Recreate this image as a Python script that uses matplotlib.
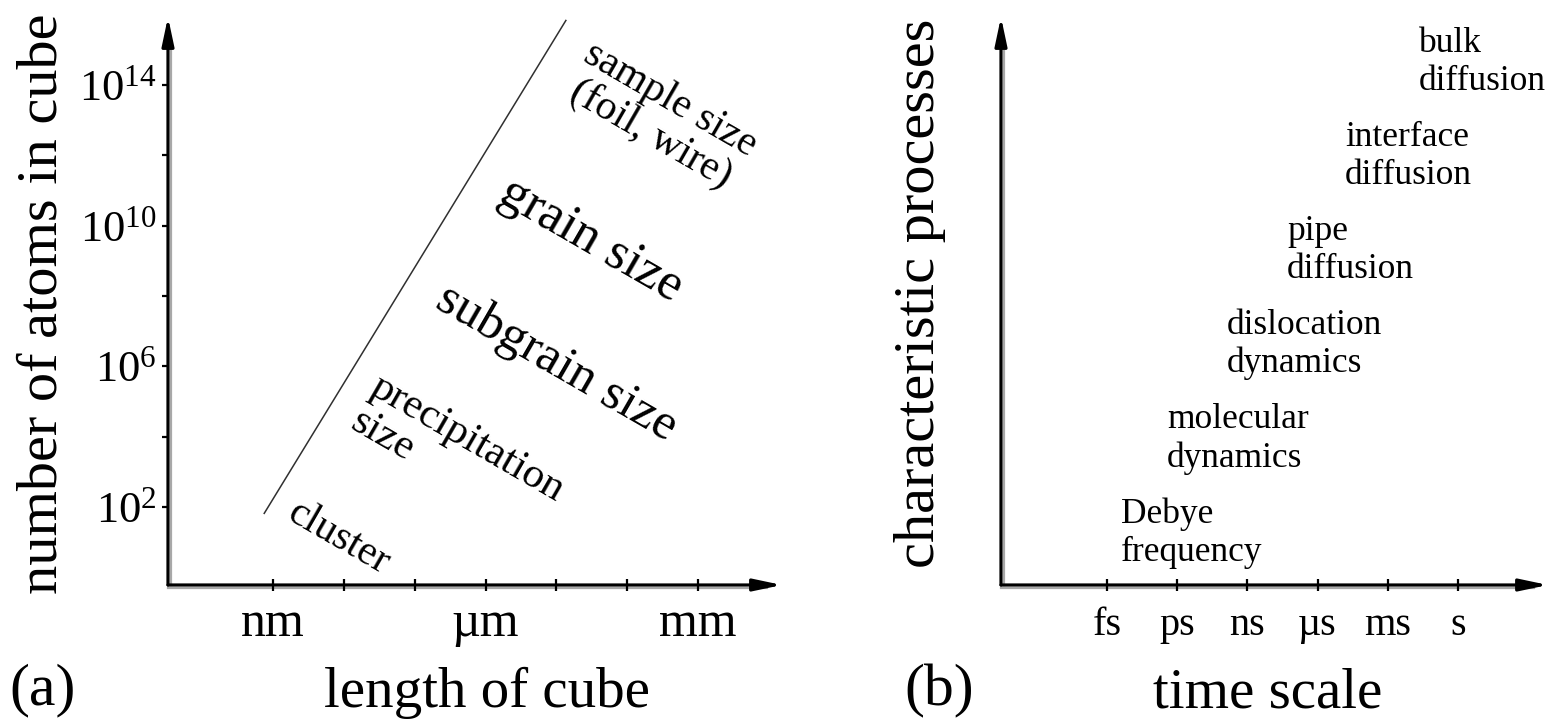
import matplotlib
matplotlib.use("Agg")
import matplotlib.pyplot as plt
from matplotlib.ticker import FixedLocator, FixedFormatter, NullFormatter, NullLocator
from matplotlib.transforms import offset_copy

SERIF = ["Liberation Serif", "DejaVu Serif"]
plt.rcParams["font.family"] = SERIF
plt.rcParams["mathtext.fontset"] = "custom"
plt.rcParams["mathtext.rm"] = "Liberation Serif"
plt.rcParams["mathtext.it"] = "Liberation Serif:italic"

# ---------------- panel (a): length of cube vs number of atoms ----------------
length_major = [1e-9, 1e-6, 1e-3]
length_major_labels = ["nm", "\u00b5m", "mm"]
length_minor = [1e-8, 1e-7, 1e-5, 1e-4]
atoms_major = [1e2, 1e6, 1e10, 1e14]
atoms_major_labels = [r"$10^{2}$", r"$10^{6}$", r"$10^{10}$", r"$10^{14}$"]
atoms_minor = [1e4, 1e8, 1e12]

# straight line N ~ L^3 (log-log)
cube_line_length = [10 ** -9.13, 10 ** -4.86]
cube_line_atoms = [10 ** 1.80, 10 ** 15.85]

regime_names = ["cluster", "precipitation\nsize", "subgrain size",
                "grain size", "sample size\n(foil, wire)"]
regime_length = [10 ** -8.08, 10 ** -6.40, 10 ** -5.00, 10 ** -4.51, 10 ** -3.53]
regime_atoms = [10 ** 1.12, 10 ** 3.45, 10 ** 6.09, 10 ** 9.59, 10 ** 13.09]

# ---------------- panel (b): time scale of characteristic processes ----------------
time_ticks = [1e-15, 1e-12, 1e-9, 1e-6, 1e-3, 1.0]
time_labels = ["fs", "ps", "ns", "\u00b5s", "ms", "s"]
process_names = ["Debye\nfrequency", "molecular\ndynamics", "dislocation\ndynamics",
                 "pipe\ndiffusion", "interface\ndiffusion", "bulk\ndiffusion"]
process_time = [10 ** -14.40, 10 ** -12.44, 10 ** -9.87, 10 ** -7.31, 10 ** -4.83, 10 ** -1.67]
process_level = [0, 1, 2, 3, 4, 5]

W, H = 1552, 724
fig = plt.figure(figsize=(W / 100, H / 100), dpi=100)
fig.patch.set_facecolor("white")


def px_axes(x0, x1, y_bottom, y_top):
    return fig.add_axes([x0 / W, (H - y_bottom) / H, (x1 - x0) / W, (y_bottom - y_top) / H])


def arrow_axes(ax, color="black"):
    for s in ax.spines.values():
        s.set_visible(False)
    ax.set_facecolor("none")
    # soft grey edge running alongside each axis line
    shadow_x = offset_copy(ax.transAxes, fig=fig, x=0, y=-2.5, units="dots")
    shadow_y = offset_copy(ax.transAxes, fig=fig, x=2.5, y=0, units="dots")
    ax.plot([0, 0.975], [0, 0], transform=shadow_x, color="#a8a8a8", lw=1.6,
            clip_on=False, zorder=1)
    ax.plot([0, 0], [0, 0.96], transform=shadow_y, color="#a8a8a8", lw=1.6,
            clip_on=False, zorder=1)
    for end in [(1, 0), (0, 1)]:
        ax.annotate("", xy=end, xytext=(0, 0), xycoords="axes fraction",
                    arrowprops=dict(arrowstyle="-|>,head_length=0.85,head_width=0.18",
                                    lw=2.3, color=color, shrinkA=0, shrinkB=0,
                                    mutation_scale=20),
                    annotation_clip=False, zorder=2)


# ---------------- draw panel (a) ----------------
ax_a = px_axes(168, 782, 585, 17)
ax_a.set_xscale("log")
ax_a.set_yscale("log")
ax_a.set_xlim(10 ** -10.483, 10 ** -1.814)
ax_a.set_ylim(10 ** -0.218, 10 ** 15.93)
arrow_axes(ax_a)

ax_a.xaxis.set_major_locator(FixedLocator(length_major))
ax_a.xaxis.set_major_formatter(FixedFormatter(length_major_labels))
ax_a.xaxis.set_minor_locator(FixedLocator(length_minor))
ax_a.xaxis.set_minor_formatter(NullFormatter())
ax_a.yaxis.set_major_locator(FixedLocator(atoms_major))
ax_a.yaxis.set_major_formatter(FixedFormatter(atoms_major_labels))
ax_a.yaxis.set_minor_locator(FixedLocator(atoms_minor))
ax_a.yaxis.set_minor_formatter(NullFormatter())

ax_a.tick_params(axis="x", which="both", direction="inout", length=8, width=1.6,
                 color="black")
ax_a.tick_params(axis="x", which="major", labelsize=36, pad=7.5)
ax_a.tick_params(axis="y", which="both", direction="out", length=4, width=1.6,
                 color="black")
ax_a.tick_params(axis="y", which="major", labelsize=32, pad=4)

ax_a.plot(cube_line_length, cube_line_atoms, color="#303030", lw=1.1,
          solid_capstyle="butt")

regime_style = {
    "cluster": dict(size=30, ma="left"),
    "precipitation\nsize": dict(size=31, ma="left"),
    "subgrain size": dict(size=37, ma="center"),
    "grain size": dict(size=38, ma="center"),
    "sample size\n(foil, wire)": dict(size=30, ma="center"),
}
for name, lx, ny in zip(regime_names, regime_length, regime_atoms):
    st = regime_style[name]
    ax_a.text(lx, ny, name, rotation=-30, ha="center", va="center",
              multialignment=st["ma"], fontsize=st["size"], linespacing=1.05)

ax_a.set_xlabel("length of cube", fontsize=41, va="baseline", ha="center",
                family=SERIF)
ax_a.xaxis.set_label_coords(0.5195, -0.2148)
ax_a.set_ylabel("number of atoms in cube", fontsize=42, family=SERIF)
ax_a.yaxis.label.set_rotation_mode("default")
ax_a.yaxis.label.set_va("center")
ax_a.yaxis.label.set_ha("center")
ax_a.yaxis.set_label_coords(-0.205, 0.4947)

# ---------------- draw panel (b) ----------------
ax_b = px_axes(1001, 1548, 585, 17)
ax_b.set_xscale("log")
ax_b.set_xlim(10 ** -19.53, 10 ** 3.85)
ax_b.set_ylim(-0.552, 5.478)
arrow_axes(ax_b)

ax_b.xaxis.set_major_locator(FixedLocator(time_ticks))
ax_b.xaxis.set_major_formatter(FixedFormatter(time_labels))
ax_b.xaxis.set_minor_locator(NullLocator())
ax_b.yaxis.set_major_locator(NullLocator())
ax_b.yaxis.set_minor_locator(NullLocator())
ax_b.tick_params(axis="x", which="major", direction="inout", length=8, width=1.6,
                 color="black", labelsize=29, pad=12)

for name, t, lvl in zip(process_names, process_time, process_level):
    ax_b.text(t, lvl, name, ha="left", va="center", fontsize=25.5, linespacing=1.2)

ax_b.set_xlabel("time scale", fontsize=41, va="baseline", ha="center", family=SERIF)
ax_b.xaxis.set_label_coords(0.487, -0.2165)
ax_b.set_ylabel("characteristic processes", fontsize=42, family=SERIF)
ax_b.yaxis.label.set_rotation_mode("default")
ax_b.yaxis.label.set_va("center")
ax_b.yaxis.label.set_ha("center")
ax_b.yaxis.set_label_coords(-0.148, 0.514)

# panel letters
fig.text(43 / W, 1 - 690 / H, "(a)", fontsize=43, ha="center", va="center")
fig.text(939 / W, 1 - 691 / H, "(b)", fontsize=43, ha="center", va="center")

fig.savefig("out.png", dpi=100, facecolor="white")
